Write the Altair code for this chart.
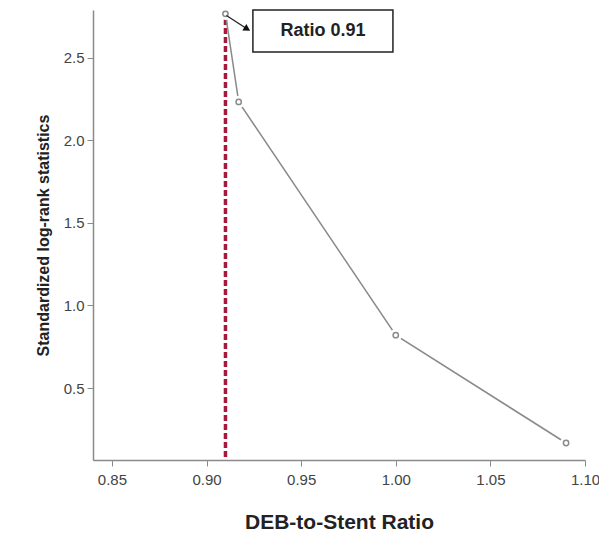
import altair as alt
import pandas as pd

ratio = [0.91, 0.917, 1.00, 1.09]
stat = [2.767, 2.233, 0.82, 0.167]
cutoff = [0.91]
x_ticks = [0.85, 0.90, 0.95, 1.00, 1.05, 1.10]
y_ticks = [0.5, 1.0, 1.5, 2.0, 2.5]
label_text = ["Ratio 0.91"]

FONT = "Liberation Sans"
xs = alt.Scale(domain=[0.84, 1.10], nice=False, zero=False)
ys = alt.Scale(domain=[0.064, 2.79], nice=False, zero=False)

df = pd.DataFrame({"ratio": ratio, "stat": stat})

base = alt.Chart(df)

line = base.mark_line(color="#8a8a8a", strokeWidth=1.5).encode(
    x=alt.X("ratio:Q", scale=xs,
            axis=alt.Axis(title="DEB-to-Stent Ratio", values=x_ticks, format=".2f",
                          grid=False, domainColor="#8a8a8a", tickColor="#8a8a8a",
                          tickSize=6, labelFont=FONT, labelFontSize=15, labelColor="#444",
                          labelPadding=6, titleFont=FONT, titleFontSize=21,
                          titleFontWeight="bold", titleColor="#222", titlePadding=24,
                          domainWidth=1.5, labelOverlap=False, labelFlush=False)),
    y=alt.Y("stat:Q", scale=ys,
            axis=alt.Axis(title="Standardized log-rank statistics", values=y_ticks,
                          format=".1f", grid=False, domainColor="#8a8a8a",
                          tickColor="#8a8a8a", tickSize=6, labelFont=FONT,
                          labelFontSize=15, labelColor="#444", labelPadding=3,
                          titleFont=FONT, titleFontSize=16, titleFontWeight="bold",
                          titleColor="#222", titlePadding=12, domainWidth=1.5)),
)

halo = base.mark_point(shape="circle", filled=True, color="white", size=150, opacity=1).encode(
    x=alt.X("ratio:Q", scale=xs), y=alt.Y("stat:Q", scale=ys))
pts = base.mark_point(shape="circle", filled=True, fill="white", stroke="#8a8a8a",
                      strokeWidth=1.5, size=28, opacity=1).encode(
    x=alt.X("ratio:Q", scale=xs), y=alt.Y("stat:Q", scale=ys))

rule = alt.Chart(pd.DataFrame({"c": cutoff})).mark_rule(
    color="#a8183a", strokeWidth=3.5, strokeDash=[6, 3]).encode(
    x=alt.X("c:Q", scale=xs))

# annotation (data units)
box_df = pd.DataFrame({"x1": [0.9245], "x2": [0.9985], "y1": [2.535], "y2": [2.79]})
box = alt.Chart(box_df).mark_rect(fill="white", stroke="#222", strokeWidth=1.5).encode(
    x=alt.X("x1:Q", scale=xs), x2="x2:Q", y=alt.Y("y1:Q", scale=ys), y2="y2:Q")

txt = alt.Chart(pd.DataFrame({"x": [0.9615], "y": [2.662], "t": label_text})).mark_text(
    font=FONT, fontSize=18, fontWeight="bold", color="#222", baseline="middle").encode(
    x=alt.X("x:Q", scale=xs), y=alt.Y("y:Q", scale=ys), text="t:N")

arrow_df = pd.DataFrame({"x": [0.9105, 0.9205], "y": [2.757, 2.682]})
arrow = alt.Chart(arrow_df).mark_line(color="#222", strokeWidth=1.3).encode(
    x=alt.X("x:Q", scale=xs), y=alt.Y("y:Q", scale=ys))
head = alt.Chart(pd.DataFrame({"x": [0.9215], "y": [2.675]})).mark_point(
    shape="triangle-up", filled=True, color="#111", size=60, angle=121, opacity=1).encode(
    x=alt.X("x:Q", scale=xs), y=alt.Y("y:Q", scale=ys))

chart = alt.layer(rule, line, halo, pts, box, txt, arrow, head).properties(
    width=492, height=450,
    background="white",
    padding={"left": 85, "top": 2, "right": 14, "bottom": 78},
    autosize=alt.AutoSizeParams(type="none"),
).configure_view(stroke=None, strokeWidth=0)

chart.save("out.html", embed_options={"renderer": "svg", "actions": False})
